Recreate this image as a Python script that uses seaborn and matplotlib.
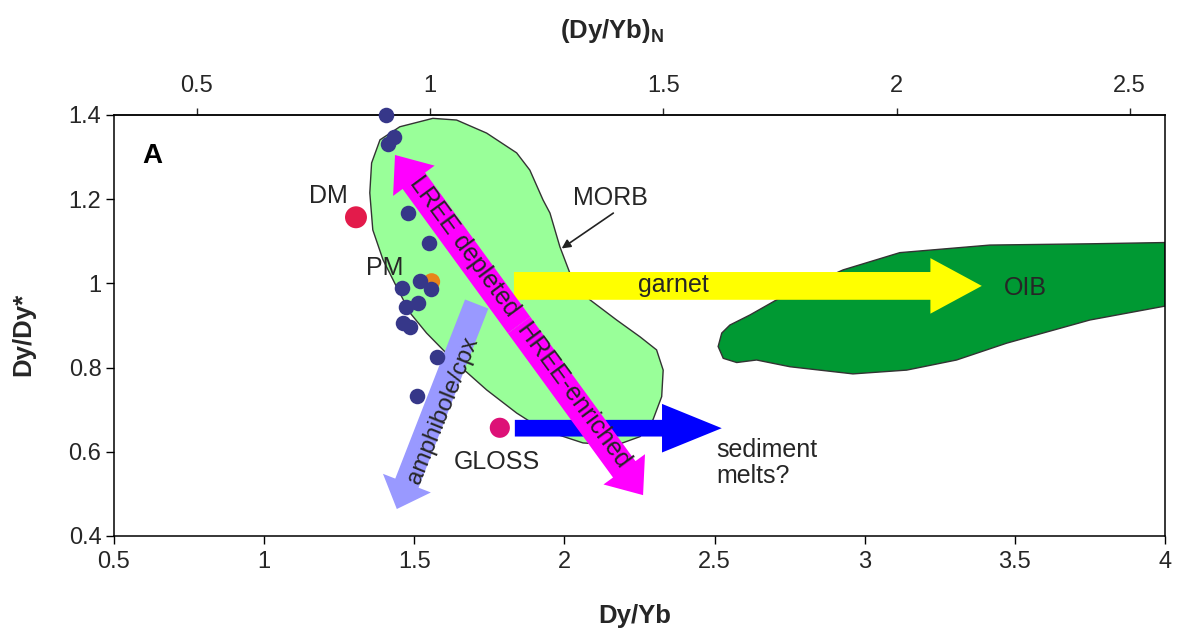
import matplotlib
matplotlib.use("Agg")
import matplotlib.pyplot as plt
import seaborn as sns
import pandas as pd
from matplotlib.patches import Polygon, FancyArrowPatch
from matplotlib.ticker import FuncFormatter, FixedLocator

# ---------------- data ----------------
sample_dyyb = [1.406, 1.433, 1.413, 1.480, 1.550, 1.519, 1.556, 1.458,
               1.513, 1.472, 1.463, 1.486, 1.575, 1.510]
sample_dydy = [1.400, 1.347, 1.331, 1.167, 1.097, 1.006, 0.986, 0.988,
               0.954, 0.943, 0.905, 0.897, 0.826, 0.733]

ref_names = ["DM", "PM", "GLOSS"]
ref_dyyb = [1.306, 1.558, 1.785]
ref_dydy = [1.157, 1.004, 0.657]

morb_x = [1.386, 1.452, 1.562, 1.641, 1.741, 1.841, 1.885, 1.929, 1.952, 1.985,
          2.018, 2.085, 2.174, 2.252, 2.307, 2.329, 2.324, 2.295, 2.252, 2.174,
          2.062, 1.929, 1.841, 1.741, 1.629, 1.541, 1.486, 1.441, 1.396, 1.362,
          1.352, 1.358]
morb_y = [1.341, 1.372, 1.392, 1.388, 1.357, 1.310, 1.269, 1.198, 1.167, 1.087,
          1.025, 0.961, 0.913, 0.873, 0.842, 0.794, 0.731, 0.676, 0.636, 0.616,
          0.621, 0.652, 0.692, 0.747, 0.818, 0.882, 0.930, 0.992, 1.056, 1.127,
          1.215, 1.286]

oib_x = [2.512, 2.524, 2.551, 2.618, 2.707, 2.928, 3.117, 3.417, 3.750, 4.000,
         4.000, 3.750, 3.473, 3.306, 3.140, 2.961, 2.751, 2.640, 2.574, 2.529]
oib_y = [0.850, 0.882, 0.901, 0.925, 0.961, 1.032, 1.073, 1.091, 1.094, 1.097,
         0.946, 0.913, 0.858, 0.818, 0.794, 0.785, 0.802, 0.818, 0.812, 0.822]

chondrite_dyyb = 1.553

x_ticks = [0.5, 1, 1.5, 2, 2.5, 3, 3.5, 4]
y_ticks = [0.4, 0.6, 0.8, 1.0, 1.2, 1.4]
top_ticks = [0.5, 1, 1.5, 2, 2.5]

# ---------------- style ----------------
sns.set_theme(style="ticks")
plt.rcParams["font.family"] = ["Liberation Sans", "DejaVu Sans"]
plt.rcParams["mathtext.fontset"] = "custom"
plt.rcParams["mathtext.rm"] = "Liberation Sans"
plt.rcParams["mathtext.bf"] = "Liberation Sans:bold"
TXT = "#262626"

fig = plt.figure(figsize=(11.82, 6.37), dpi=100)
ax = fig.add_axes([0.0964, 0.1586, 0.9856 - 0.0964, 0.8195 - 0.1586])

ax.set_xlim(0.5, 4.0)
ax.set_ylim(0.4, 1.4)

# fields
ax.add_patch(Polygon(list(zip(morb_x, morb_y)), closed=True, facecolor="#99FF99",
                     edgecolor="#333333", lw=1.0, zorder=1))
ax.add_patch(Polygon(list(zip(oib_x, oib_y)), closed=True, facecolor="#009933",
                     edgecolor="#333333", lw=1.0, zorder=1))


def big_arrow(p0, p1, color, tail, hw, hl, z=3):
    a = FancyArrowPatch(p0, p1,
                        arrowstyle=f"simple,head_length={hl},head_width={hw},tail_width={tail}",
                        mutation_scale=1, color=color, lw=0, shrinkA=0, shrinkB=0, zorder=z)
    ax.add_patch(a)


# garnet arrow (yellow)
big_arrow((1.832, 0.994), (3.390, 0.994), "#FFFF00", 20, 40, 37)
# sediment melts arrow (blue)
big_arrow((1.835, 0.656), (2.524, 0.656), "#0000FF", 12, 35, 43)
# amphibole/cpx arrow (light blue)
big_arrow((1.708, 0.951), (1.442, 0.464), "#9999FF", 18, 37, 20)
# LREE depleted / HREE enriched double arrow (magenta)
mid = ((1.436 + 2.262) / 2, (1.305 + 0.497) / 2)
big_arrow(mid, (1.436, 1.305), "#FF00FF", 20, 37, 23, z=4)
big_arrow(mid, (2.262, 0.497), "#FF00FF", 20, 37, 23, z=4)

# MORB pointer
ax.annotate("", xy=(1.991, 1.083), xytext=(2.163, 1.167),
            arrowprops=dict(arrowstyle="-|>", color="#222222", lw=1.2,
                            mutation_scale=13, shrinkA=0, shrinkB=0), zorder=5)

# points
ref_df = pd.DataFrame({"name": ref_names, "dyyb": ref_dyyb, "dydy": ref_dydy})
sns.scatterplot(data=ref_df, x="dyyb", y="dydy", hue="name",
                palette={"DM": "#E31B4B", "PM": "#E8841A", "GLOSS": "#DD1177"},
                size="name", sizes={"DM": 250, "PM": 150, "GLOSS": 210},
                linewidth=0, legend=False, ax=ax, zorder=6)
samp_df = pd.DataFrame({"dyyb": sample_dyyb, "dydy": sample_dydy})
sns.scatterplot(data=samp_df, x="dyyb", y="dydy", color="#363789", s=125,
                linewidth=0, legend=False, ax=ax, zorder=7, clip_on=False)

# labels
fs = 18
ax.text(0.593, 1.303, "A", fontsize=20, fontweight="bold", color="black",
        ha="left", va="center", zorder=8)
ax.text(1.213, 1.208, "DM", fontsize=fs, color=TXT, ha="center", va="center", zorder=8)
ax.text(1.402, 1.037, "PM", fontsize=fs, color=TXT, ha="center", va="center", zorder=8)
ax.text(1.774, 0.576, "GLOSS", fontsize=fs, color=TXT, ha="center", va="center", zorder=8)
ax.text(2.152, 1.202, "MORB", fontsize=fs, color=TXT, ha="center", va="center", zorder=8)
ax.text(3.534, 0.988, "OIB", fontsize=fs, color=TXT, ha="center", va="center", zorder=8)
ax.text(2.363, 0.996, "garnet", fontsize=fs, color=TXT, ha="center", va="center", zorder=8)
ax.text(2.505, 0.573, "sediment\nmelts?", fontsize=fs, color=TXT, ha="left", va="center",
        linespacing=1.1, zorder=8)
ax.text(1.852, 0.908, "LREE depleted  HREE-enriched", fontsize=fs, color=TXT,
        ha="center", va="center", rotation=-53.6, rotation_mode="anchor", zorder=8)
ax.text(1.596, 0.699, "amphibole/cpx", fontsize=17.5, color=TXT,
        ha="center", va="center", rotation=68, rotation_mode="anchor", zorder=8)

# axes
fmt = FuncFormatter(lambda v, p: f"{v:g}")
ax.xaxis.set_major_locator(FixedLocator(x_ticks))
ax.yaxis.set_major_locator(FixedLocator(y_ticks))
ax.xaxis.set_major_formatter(fmt)
ax.yaxis.set_major_formatter(fmt)
ax.tick_params(axis="both", direction="out", length=6, width=1, labelsize=17,
               colors="black", labelcolor=TXT)
ax.tick_params(axis="x", pad=5)
ax.tick_params(axis="y", pad=3)
for s in ax.spines.values():
    s.set_visible(True)
    s.set_linewidth(1.1)
    s.set_color("black")

ax.set_xlabel("Dy/Yb", fontsize=18.5, fontweight="bold", color=TXT)
ax.xaxis.set_label_coords(0.495, -0.19)
ax.xaxis.label.set_va("center")
ax.set_ylabel("Dy/Dy*", fontsize=18.5, fontweight="bold", color=TXT)
ax.yaxis.set_label_coords(-0.0865, 0.48)
ax.yaxis.label.set_va("center")

secax = ax.secondary_xaxis("top", functions=(lambda x: x / chondrite_dyyb,
                                              lambda n: n * chondrite_dyyb))
secax.xaxis.set_major_locator(FixedLocator(top_ticks))
secax.xaxis.set_major_formatter(fmt)
secax.tick_params(direction="out", length=5, width=1, labelsize=17, labelcolor=TXT, pad=8)
secax.spines["top"].set_linewidth(1.1)

fig.text(612 / 1182, 1 - 31 / 637, r"$\mathbf{(Dy/Yb)}_\mathbf{N}$", fontsize=18.5,
         color=TXT, ha="center", va="center")

fig.savefig("out.png", dpi=100)
